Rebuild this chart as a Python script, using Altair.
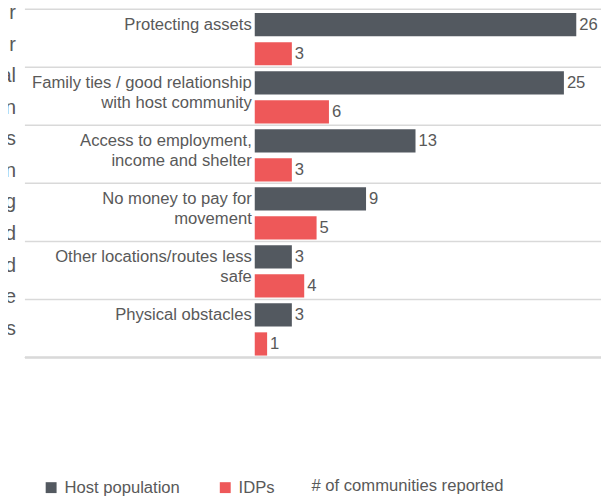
import altair as alt
import pandas as pd

FONT = "Liberation Sans, Arial, sans-serif"
TXT = "#595959"
DARK = "#535960"
RED = "#EE5859"
GRID = "#D9D9D9"
FS = 16.7

categories = [
    "Protecting assets",
    "Family ties / good relationship with host community",
    "Access to employment, income and shelter",
    "No money to pay for movement",
    "Other locations/routes less safe",
    "Physical obstacles",
]
label_lines = [
    ["Protecting assets"],
    ["Family ties / good relationship", "with host community"],
    ["Access to employment,", "income and shelter"],
    ["No money to pay for", "movement"],
    ["Other locations/routes less", "safe"],
    ["Physical obstacles"],
]
series = ["Host population", "IDPs"]
host_values = [26, 25, 13, 9, 3, 3]
idp_values = [3, 6, 3, 5, 4, 1]
x_title = "# of communities reported"

# cut-off fragments of a neighbouring text box at the left edge
fragments = ["r", "r", "al", "n", "s", "n", "g", "d", "d", "e", "s"]

rows = []
for c, h, i in zip(categories, host_values, idp_values):
    rows.append({"category": c, "series": series[0], "value": h})
    rows.append({"category": c, "series": series[1], "value": i})
df = pd.DataFrame(rows)
grid_df = pd.DataFrame({"category": categories})
label_df = pd.DataFrame({"category": categories,
                         "label": ["\n".join(l) for l in label_lines]})
frag_df = pd.DataFrame({"row": list(range(len(fragments))), "frag": fragments})
title_df = pd.DataFrame({"t": [x_title]})

W, H = 348, 350

y_scale = alt.Scale(paddingInner=0, paddingOuter=0)
yoff = alt.YOffset("series:N", sort=series,
                   scale=alt.Scale(paddingInner=0.2, paddingOuter=0.1, align=0.67))

bars = alt.Chart(df).mark_bar().encode(
    x=alt.X("value:Q", scale=alt.Scale(domain=[0, 28]), axis=None),
    y=alt.Y("category:N", sort=categories, scale=y_scale, axis=None),
    yOffset=yoff,
    color=alt.Color(
        "series:N", sort=series,
        scale=alt.Scale(domain=series, range=[DARK, RED]),
        legend=alt.Legend(
            orient="none", legendX=-213, legendY=472, direction="horizontal",
            title=None, symbolType="square", symbolSize=120, symbolStrokeWidth=0,
            labelFontSize=FS, labelColor=TXT, labelFont=FONT, labelOffset=5,
            columnPadding=37, padding=0,
        ),
    ),
)

values = alt.Chart(df).mark_text(
    align="left", baseline="middle", dx=3, fontSize=FS, color=TXT, font=FONT
).encode(
    x=alt.X("value:Q", axis=None),
    y=alt.Y("category:N", sort=categories, axis=None),
    yOffset=alt.YOffset("series:N", sort=series),
    text="value:Q",
)

cat_labels = alt.Chart(label_df).mark_text(
    align="right", baseline="top", dx=-3, fontSize=FS, color=TXT, font=FONT,
    lineBreak="\n", lineHeight=20,
).encode(
    x=alt.value(0),
    y=alt.Y("category:N", sort=categories, bandPosition=0.13, axis=None),
    text="label:N",
)

grid = alt.Chart(grid_df).mark_rule(color=GRID, strokeWidth=1.5).encode(
    y=alt.Y("category:N", sort=categories, bandPosition=0, axis=None),
    x=alt.value(-231),
    x2=alt.value(349),
)
grid_bottom = alt.Chart(grid_df).mark_rule(color=GRID, strokeWidth=1.5).encode(
    y=alt.value(H), x=alt.value(-231), x2=alt.value(349)
)

frags = alt.Chart(frag_df).transform_calculate(
    ypix="4 + datum.row * 31.7"
).mark_text(
    align="right", baseline="middle", fontSize=20, color=TXT, font=FONT
).encode(
    x=alt.value(-240),
    y=alt.Y("ypix:Q", scale=None, axis=None),
    text="frag:N",
)

x_title_mark = alt.Chart(title_df).mark_text(
    align="left", baseline="middle", fontSize=FS, color=TXT, font=FONT
).encode(
    x=alt.value(57), y=alt.value(479), text="t:N"
)

chart = alt.layer(grid, grid_bottom, bars, values, cat_labels, frags, x_title_mark).properties(
    width=W, height=H,
    padding={"left": 248, "top": 0, "right": 0, "bottom": 140},
    autosize="none",
).configure_view(stroke=None)

chart.save("out.html", embed_options={"renderer": "svg", "actions": False})
